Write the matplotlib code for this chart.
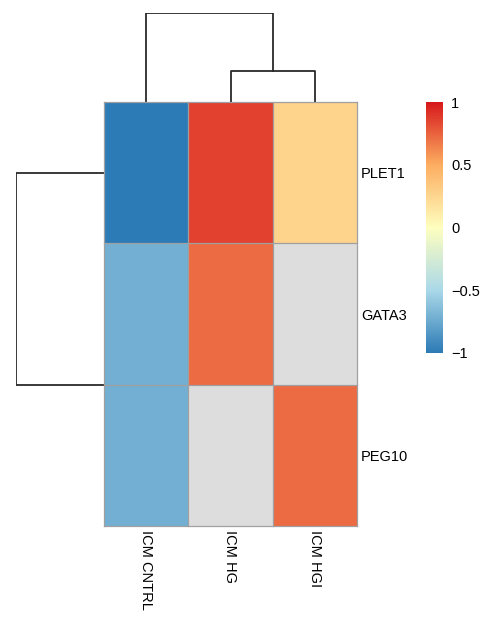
import matplotlib
matplotlib.use("Agg")
import matplotlib.pyplot as plt
import numpy as np
from matplotlib.colors import LinearSegmentedColormap

plt.rcParams["font.family"] = ["Liberation Sans", "DejaVu Sans"]

# ── Data ──────────────────────────────────────────────────────────────────────
genes   = ["PLET1", "GATA3", "PEG10"]
samples = ["ICM CNTRL", "ICM HG", "ICM HGI"]
values  = [
    [-1.00, 0.86, 0.27],
    [-0.72, 0.72, np.nan],
    [-0.72, np.nan, 0.72],
]
# dendrogram merge heights (normalised)
col_merges = [0.345, 1.0]   # (HG, HGI), then (CNTRL, [HG,HGI])
row_merges = [0.0, 1.0]     # (GATA3, PEG10), then (PLET1, [GATA3,PEG10])
cbar_ticks = [-1, -0.5, 0, 0.5, 1]
cbar_labels = ["\u22121", "\u22120.5", "0", "0.5", "1"]

# ── Palette ───────────────────────────────────────────────────────────────────
cmap = LinearSegmentedColormap.from_list(
    "rdylbu_r", ["#2c7bb6", "#abd9e9", "#ffffbf", "#fdae61", "#d7191c"], N=256)
cmap.set_bad("#dddddd")
LINE = "#2a2a2a"
GRID = "#a0a0a0"

W, H = 482, 617
fig = plt.figure(figsize=(W / 100, H / 100), dpi=100, facecolor="white")


def fr(x0, y0, x1, y1):
    """pixel box -> figure fraction rect"""
    return [x0 / W, 1 - y1 / H, (x1 - x0) / W, (y1 - y0) / H]


# ── Heatmap ───────────────────────────────────────────────────────────────────
ax = fig.add_axes(fr(104, 102, 357, 526))
data = np.ma.masked_invalid(np.array(values, dtype=float))
ax.pcolormesh(data, cmap=cmap, vmin=-1, vmax=1, linewidth=0)
# cell borders
for i in range(len(genes) + 1):
    ax.axhline(i, color=GRID, lw=0.9, clip_on=False, zorder=3)
for j in range(len(samples) + 1):
    ax.axvline(j, color=GRID, lw=0.9, clip_on=False, zorder=3)
ax.set_xlim(0, len(samples))
ax.set_ylim(len(genes), 0)
ax.set_xticks(np.arange(len(samples)) + 0.5)
ax.set_xticklabels(samples, rotation=270, fontsize=10.5, va="top", ha="center")
ax.set_yticks(np.arange(len(genes)) + 0.5)
ax.set_yticklabels(genes, fontsize=10.5)
ax.yaxis.tick_right()
ax.tick_params(length=0, pad=3)
ax.set_zorder(2)
for s in ax.spines.values():
    s.set_visible(False)

# ── Top dendrogram ────────────────────────────────────────────────────────────
axt = fig.add_axes(fr(104, 13, 357, 102))
c0, c1, c2 = 0.5, 1.5, 2.5
h1, h2 = col_merges
mid = (c1 + c2) / 2
axt.plot([c1, c1, c2, c2], [0, h1, h1, 0], color=LINE, lw=1.3)
axt.plot([c0, c0, mid, mid], [0, h2, h2, h1], color=LINE, lw=1.3)
axt.set_xlim(0, 3)
axt.set_ylim(0, 1)
axt.axis("off")

# ── Left dendrogram ───────────────────────────────────────────────────────────
axl = fig.add_axes(fr(16, 102, 104, 526))
r0, r1, r2 = 0.5, 1.5, 2.5
g1, g2 = row_merges
rmid = (r1 + r2) / 2
if g1 > 0:   # zero-height merge collapses onto the heatmap edge
    axl.plot([0, g1, g1, 0], [r1, r1, r2, r2], color=LINE, lw=1.3)
axl.plot([0, g2, g2, g1], [r0, r0, rmid, rmid], color=LINE, lw=1.3)
axl.set_xlim(1, 0)
axl.set_ylim(3, 0)
axl.set_zorder(1)
axl.axis("off")

# ── Colorbar ──────────────────────────────────────────────────────────────────
axc = fig.add_axes(fr(426, 102, 443, 353))
grad = np.linspace(-1, 1, 256).reshape(-1, 1)
axc.imshow(grad, aspect="auto", cmap=cmap, vmin=-1, vmax=1,
           origin="lower", extent=[0, 1, -1, 1])
axc.set_xticks([])
axc.yaxis.tick_right()
axc.set_yticks(cbar_ticks)
axc.set_yticklabels(cbar_labels, fontsize=10.5)
axc.tick_params(length=0, pad=6)
for s in axc.spines.values():
    s.set_visible(False)

fig.savefig("out.png", dpi=100, facecolor="white")
